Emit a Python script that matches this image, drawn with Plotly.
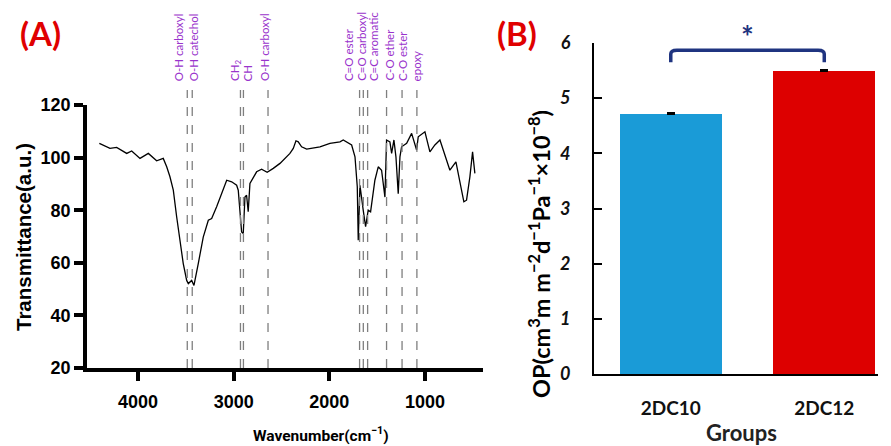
import plotly.graph_objects as go

# ---------------- data ----------------
# Panel A: FTIR spectrum
wavenumber = [4404, 4293, 4223, 4118, 4066, 3979, 3892, 3805, 3736, 3700, 3666, 3631, 3596, 3561,
              3527, 3491, 3474, 3439, 3415, 3370, 3318, 3265, 3230, 3178, 3108, 3073, 3021, 2969,
              2952, 2934, 2917, 2900, 2882, 2865, 2848, 2830, 2760, 2708, 2650, 2586, 2516, 2412,
              2377, 2349, 2325, 2290, 2237, 2098, 1994, 1889, 1855, 1767, 1732, 1708, 1698, 1680,
              1663, 1646, 1621, 1594, 1569, 1524, 1489, 1454, 1419, 1402, 1367, 1349, 1325, 1304,
              1280, 1262, 1245, 1192, 1140, 1088, 1071, 1001, 949, 897, 844, 810, 740, 677, 636,
              594, 566, 531, 503, 479]
transmittance = [105.4, 103.5, 103.9, 101.6, 102.5, 99.7, 101.6, 98.8, 99.7, 96.5, 92.7, 87.6, 77.5,
                 67.3, 59.7, 53.3, 52.1, 53.3, 51.4, 59.7, 69.8, 76.2, 76.8, 81.3, 88.3, 91.4, 90.8,
                 89.5, 87.6, 80.0, 71.7, 71.1, 85.0, 85.7, 79.4, 90.2, 94.6, 95.6, 94.4, 95.9, 97.8,
                 101.6, 103.5, 106.4, 106.0, 104.1, 103.2, 104.1, 105.4, 106.0, 106.7, 104.8, 100.3,
                 88.9, 68.6, 89.5, 83.8, 80.0, 73.7, 80.0, 79.4, 91.4, 96.5, 95.2, 85.0, 106.7, 106.0,
                 101.6, 106.7, 100.3, 86.3, 100.3, 104.1, 105.4, 109.2, 102.9, 107.9, 109.8, 102.2,
                 104.8, 106.7, 102.9, 95.2, 98.4, 91.4, 83.2, 83.8, 92.7, 102.2, 94.0]

band_positions = [3485, 3433, 2929, 2898, 2641, 1684, 1645, 1600, 1402, 1240, 1085]
band_labels = ["O-H carboxyl", "O-H catechol", "CH<sub>2</sub>", "CH", "O-H carboxyl",
               "C=O ester", "C=O carboxyl", "C=C aromatic", "C-O ether", "C-O ester", "epoxy"]
x_ticks_a = [4000, 3000, 2000, 1000]
y_ticks_a = [20, 40, 60, 80, 100, 120]

# Panel B: OP bar chart
groups = ["2DC10", "2DC12"]
op_values = [4.71, 5.49]
op_errors = [0.03, 0.02]
y_ticks_b = [0, 1, 2, 3, 4, 5, 6]

# ---------------- figure ----------------
W, H = 891, 446
def px(x):
    return x / W
def py(y):
    return 1 - y / H

fig = go.Figure()

fig.add_trace(go.Scatter(x=wavenumber, y=transmittance, mode="lines",
                         line=dict(color="black", width=1.3),
                         xaxis="x", yaxis="y", showlegend=False, hoverinfo="skip"))

fig.add_trace(go.Bar(x=[0, 1], y=op_values, width=0.667,
                     marker=dict(color=["#1A9BD7", "#DD0000"], line=dict(width=0)),
                     error_y=dict(type="data", array=op_errors, arrayminus=[0, 0], symmetric=False,
                                  color="black", thickness=1.5, width=4),
                     xaxis="x2", yaxis="y2", showlegend=False))

label_shift = [-8, 2, -5, 5, -3, -11, -2, 6, 3, 1, 0]
shapes = []
annotations = []
for pos, lab, sh in zip(band_positions, band_labels, label_shift):
    shapes.append(dict(type="line", xref="x", yref="paper", x0=pos, x1=pos,
                       y0=py(368), y1=py(90),
                       line=dict(color="#7F7F7F", width=1.3, dash="dash")))
    annotations.append(dict(text=lab, x=pos, xref="x", y=py(83), yref="paper",
                            xanchor="center", yanchor="bottom", textangle=-90, xshift=sh,
                            showarrow=False,
                            font=dict(family="Lato", size=11.5, color="#9933CC")))

# significance bracket
shapes.append(dict(type="path", xref="x2", yref="y2",
                   path="M 0,5.65 L 0,5.80 Q 0,5.87 0.04,5.87 L 0.96,5.87 Q 1,5.87 1,5.80 L 1,5.65",
                   line=dict(color="#1F3480", width=3.5)))
annotations.append(dict(text="<b>*</b>", x=0.5, xref="x2", y=py(36), yref="paper",
                        showarrow=False, font=dict(family="Lato", size=30, color="#1F3480"),
                        xanchor="center", yanchor="middle"))

# panel labels
annotations.append(dict(text="<b>(A)</b>", x=px(40), y=py(33), xref="paper", yref="paper",
                        showarrow=False, font=dict(family="Lato", size=33, color="#E00000"),
                        xanchor="center", yanchor="middle"))
annotations.append(dict(text="<b>(B)</b>", x=px(517), y=py(33), xref="paper", yref="paper",
                        showarrow=False, font=dict(family="Lato", size=33, color="#E00000"),
                        xanchor="center", yanchor="middle"))

# axis titles
annotations.append(dict(text="<b>Wavenumber(cm<sup>\u22121</sup>)</b>", x=px(321), y=py(434),
                        xref="paper", yref="paper", showarrow=False,
                        font=dict(family="Roboto", size=15.5, color="black"),
                        xanchor="center", yanchor="middle"))
annotations.append(dict(text="<b>Transmittance(a.u.)</b>", x=px(23), y=py(237),
                        xref="paper", yref="paper", showarrow=False, textangle=-90,
                        font=dict(family="Liberation Sans", size=20.5, color="black"),
                        xanchor="center", yanchor="middle"))
annotations.append(dict(text="<b>OP(cm<sup>3</sup>m m<sup>\u22122</sup>d<sup>\u22121</sup>Pa<sup>\u22121</sup>\u00d710<sup>\u22128</sup>)</b>",
                        x=px(539), y=py(254), xref="paper", yref="paper", showarrow=False,
                        textangle=-90, font=dict(family="Lato", size=23.5, color="black"),
                        xanchor="center", yanchor="middle"))
annotations.append(dict(text="<b>Groups</b>", x=px(741), y=py(432), xref="paper", yref="paper",
                        showarrow=False, font=dict(family="Lato", size=22, color="#222222"),
                        xanchor="center", yanchor="middle"))

fig.update_layout(
    width=W, height=H,
    margin=dict(l=0, r=0, t=0, b=0, pad=0, autoexpand=False),
    paper_bgcolor="white", plot_bgcolor="white",
    showlegend=False,
    xaxis=dict(domain=[px(87), px(483)], range=[4533, 394], tickvals=x_ticks_a,
               ticktext=[str(v) for v in x_ticks_a], automargin=False,
               showline=True, linecolor="black", linewidth=3.5,
               ticks="outside", ticklen=9, tickwidth=3.5, tickcolor="black",
               showgrid=False, zeroline=False, ticklabelstandoff=6,
               tickfont=dict(family="Liberation Sans", size=18, color="black", weight="bold"),
               anchor="y"),
    yaxis=dict(domain=[py(368), py(105)], range=[20, 120], tickvals=y_ticks_a, automargin=False,
               showline=True, linecolor="black", linewidth=3.5,
               ticks="outside", ticklen=9, tickwidth=3.5, tickcolor="black",
               showgrid=False, zeroline=False,
               tickfont=dict(family="Liberation Sans", size=18, color="black", weight="bold"),
               anchor="x"),
    xaxis2=dict(domain=[px(594), px(878)], range=[-0.5, 1.35], tickvals=[0, 1], ticktext=groups,
                automargin=False,
                showline=True, linecolor="black", linewidth=2, ticks="",
                showgrid=False, zeroline=False, ticklabelstandoff=16,
                tickfont=dict(family="Lato", size=19, color="#111111", weight="bold"),
                anchor="y2"),
    yaxis2=dict(domain=[py(374), py(43)], range=[0, 6], tickvals=y_ticks_b, automargin=False,
                showline=True, linecolor="black", linewidth=2,
                ticks="inside", ticklen=8, tickwidth=2, tickcolor="black",
                showgrid=False, zeroline=False, ticklabelstandoff=18,
                tickfont=dict(family="Lato", size=18, color="#111111", weight="bold", style="italic"),
                anchor="x2"),
    shapes=shapes,
    annotations=annotations,
    bargap=0,
)

fig.write_html("out.html", config={"displayModeBar": False},
               post_script="document.body.style.margin='0';document.body.style.overflow='hidden';")
